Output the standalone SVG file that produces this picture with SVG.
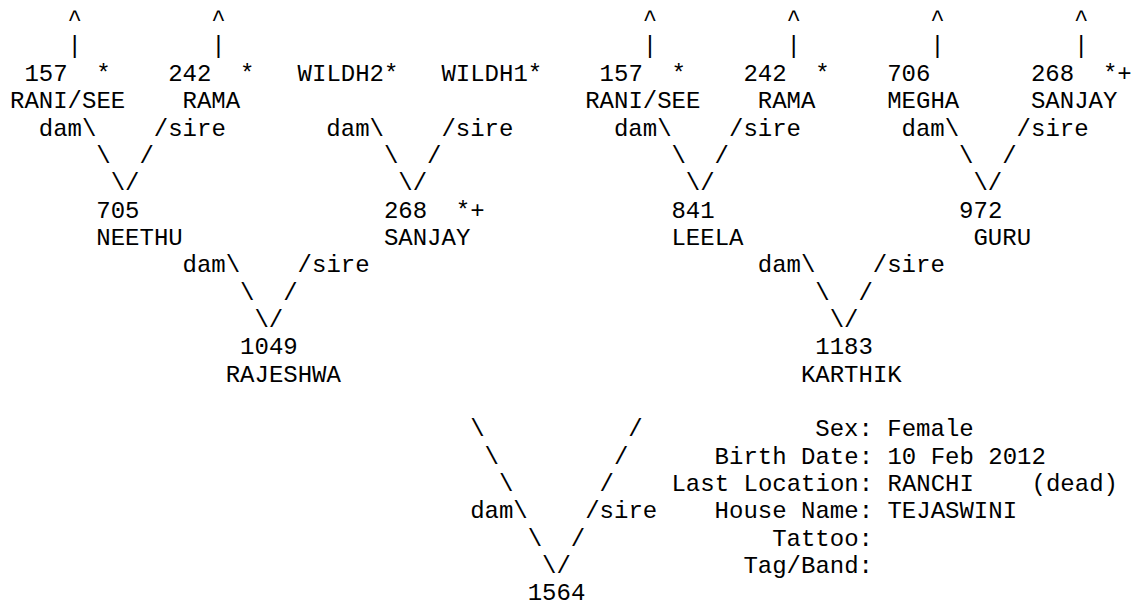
<svg xmlns="http://www.w3.org/2000/svg" width="1138" height="606" viewBox="0 0 1138 606">
<style>
text{font-family:"Liberation Mono","Courier New",monospace;font-size:24px;fill:#000;white-space:pre}
</style>
<rect width="1138" height="606" fill="#fff"/>
<g id="connectors">
<text x="67.52" y="26.1">^</text><text x="211.32" y="26.1">^</text><text x="642.72" y="26.1">^</text><text x="786.52" y="26.1">^</text><text x="930.32" y="26.1">^</text><text x="1074.12" y="26.1">^</text>
<text x="67.52" y="53.45">|</text><text x="211.32" y="53.45">|</text><text x="642.72" y="53.45">|</text><text x="786.52" y="53.45">|</text><text x="930.32" y="53.45">|</text><text x="1074.12" y="53.45">|</text>
<text x="38.76" y="135.5">dam\</text><text x="153.8" y="135.5">/sire</text>
<text x="326.36" y="135.5">dam\</text><text x="441.4" y="135.5">/sire</text>
<text x="613.96" y="135.5">dam\</text><text x="729" y="135.5">/sire</text>
<text x="901.56" y="135.5">dam\</text><text x="1016.6" y="135.5">/sire</text>
<text x="96.28" y="162.85">\</text><text x="139.42" y="162.85">/</text>
<text x="383.88" y="162.85">\</text><text x="427.02" y="162.85">/</text>
<text x="671.48" y="162.85">\</text><text x="714.62" y="162.85">/</text>
<text x="959.08" y="162.85">\</text><text x="1002.22" y="162.85">/</text>
<text x="110.66" y="190.2">\/</text><text x="398.26" y="190.2">\/</text><text x="685.86" y="190.2">\/</text><text x="973.46" y="190.2">\/</text>
<text x="182.56" y="272.25">dam\</text><text x="297.6" y="272.25">/sire</text>
<text x="757.76" y="272.25">dam\</text><text x="872.8" y="272.25">/sire</text>
<text x="240.08" y="299.6">\</text><text x="283.22" y="299.6">/</text>
<text x="815.28" y="299.6">\</text><text x="858.42" y="299.6">/</text>
<text x="254.46" y="326.95">\/</text><text x="829.66" y="326.95">\/</text>
<text x="470.16" y="436.35">\</text><text x="628.34" y="436.35">/</text>
<text x="484.54" y="463.7">\</text><text x="613.96" y="463.7">/</text>
<text x="498.92" y="491.05">\</text><text x="599.58" y="491.05">/</text>
<text x="470.16" y="518.4">dam\</text><text x="585.2" y="518.4">/sire</text>
<text x="527.68" y="545.75">\</text><text x="570.82" y="545.75">/</text>
<text x="542.06" y="573.1">\/</text>
</g>
<g id="node-157-a"><text x="24.38" y="80.8">157</text><text x="96.28" y="80.8">*</text><text x="10" y="108.15">RANI/SEE</text></g>
<g id="node-242-a"><text x="168.18" y="80.8">242</text><text x="240.08" y="80.8">*</text><text x="182.56" y="108.15">RAMA</text></g>
<g id="node-wildh2"><text x="297.6" y="80.8">WILDH2*</text></g>
<g id="node-wildh1"><text x="441.4" y="80.8">WILDH1*</text></g>
<g id="node-157-b"><text x="599.58" y="80.8">157</text><text x="671.48" y="80.8">*</text><text x="585.2" y="108.15">RANI/SEE</text></g>
<g id="node-242-b"><text x="743.38" y="80.8">242</text><text x="815.28" y="80.8">*</text><text x="757.76" y="108.15">RAMA</text></g>
<g id="node-706"><text x="887.18" y="80.8">706</text><text x="887.18" y="108.15">MEGHA</text></g>
<g id="node-268-a"><text x="1030.98" y="80.8">268</text><text x="1102.88" y="80.8">*+</text><text x="1030.98" y="108.15">SANJAY</text></g>
<g id="node-705"><text x="96.28" y="217.55">705</text><text x="96.28" y="244.9">NEETHU</text></g>
<g id="node-268-b"><text x="383.88" y="217.55">268</text><text x="455.78" y="217.55">*+</text><text x="383.88" y="244.9">SANJAY</text></g>
<g id="node-841"><text x="671.48" y="217.55">841</text><text x="671.48" y="244.9">LEELA</text></g>
<g id="node-972"><text x="959.08" y="217.55">972</text><text x="973.46" y="244.9">GURU</text></g>
<g id="node-1049"><text x="240.08" y="354.3">1049</text><text x="225.7" y="381.65">RAJESHWA</text></g>
<g id="node-1183"><text x="815.28" y="354.3">1183</text><text x="800.9" y="381.65">KARTHIK</text></g>
<g id="node-1564"><text x="527.68" y="600.45">1564</text></g>
<g id="info">
<text x="815.28" y="436.35">Sex: Female</text>
<text x="714.62" y="463.7">Birth Date: 10 Feb 2012</text>
<text x="671.48" y="491.05" xml:space="preserve">Last Location: RANCHI    (dead)</text>
<text x="714.62" y="518.4">House Name: TEJASWINI</text>
<text x="772.14" y="545.75">Tattoo:</text>
<text x="743.38" y="573.1">Tag/Band:</text>
</g>
</svg>
